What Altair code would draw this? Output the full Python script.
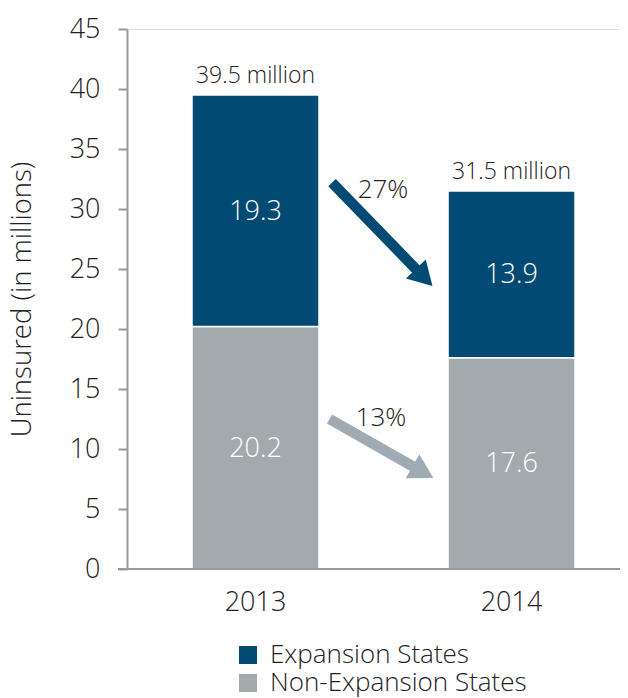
import math
import altair as alt
import pandas as pd

FONT = "Open Sans"
TXT = "#222222"
FW = 300

years = ["2013", "2014"]
series = ["Expansion States", "Non-Expansion States"]
expansion = [19.3, 13.9]
non_expansion = [20.2, 17.6]
totals = [39.5, 31.5]
total_labels = ["39.5 million", "31.5 million"]
colors = ["#004a73", "#a2aaad"]

# arrows (x in category-index units, y in millions)
arrow_labels = ["27%", "13%"]
arrow_x0 = [0.299, 0.289]
arrow_y0 = [32.2, 12.5]
arrow_x1 = [0.690, 0.693]
arrow_y1 = [23.6, 7.6]
arrow_colors = ["#004a73", "#a0aab3"]
pct_x = [0.498, 0.490]
pct_y = [31.6, 12.6]

W, H = 493, 540
YMAX = 45
XDOM = [-0.502, 1.4238]
PX_X = W / (XDOM[1] - XDOM[0])
PX_Y = H / YMAX

rows = []
for i, yr in enumerate(years):
    rows.append(dict(year=yr, series="Non-Expansion States", y0=0, y1=non_expansion[i],
                     val=non_expansion[i], mid=non_expansion[i] / 2))
    rows.append(dict(year=yr, series="Expansion States", y0=non_expansion[i],
                     y1=non_expansion[i] + expansion[i], val=expansion[i],
                     mid=non_expansion[i] + expansion[i] / 2))
bars_df = pd.DataFrame(rows)
tot_df = pd.DataFrame(dict(year=years, total=totals, label=total_labels))


def band_scale():
    return alt.Scale(type="band", domain=years, paddingInner=0.504,
                     paddingOuter=0.2148, align=0.591)


xband = alt.X("year:N", sort=years, scale=band_scale(),
              axis=alt.Axis(title=None, labelAngle=0, domain=False, ticks=False,
                            labelFontSize=27, labelFont=FONT, labelColor=TXT,
                            labelFontWeight=FW, labelPadding=20))
xband_noaxis = alt.X("year:N", sort=years, scale=band_scale(), axis=None)
yscale = alt.Scale(domain=[0, YMAX], nice=False, zero=True)

bars = alt.Chart(bars_df).mark_bar(stroke="white", strokeWidth=1.5).encode(
    x=xband,
    y=alt.Y("y0:Q", scale=yscale,
            axis=alt.Axis(values=list(range(0, 50, 5)), title="Uninsured (in millions)",
                          titleFontSize=27.5, titleFont=FONT, titleFontWeight=FW,
                          titleColor=TXT, titlePadding=33,
                          labelFontSize=27, labelFont=FONT, labelColor=TXT,
                          labelFontWeight=FW,
                          labelPadding=18, tickSize=9, tickColor="#999999",
                          tickWidth=2, domainColor="#999999", domainWidth=2,
                          grid=False)),
    y2="y1:Q",
    color=alt.Color("series:N", scale=alt.Scale(domain=series, range=colors),
                    legend=alt.Legend(orient="none", legendX=108, legendY=613,
                                      title=None, symbolType="square", symbolSize=324,
                                      symbolStrokeWidth=0, symbolOpacity=1,
                                      labelFontSize=26, labelFont=FONT, labelLimit=400,
                                      labelFontWeight=FW,
                                      labelColor=TXT, rowPadding=2, labelOffset=9,
                                      direction="vertical")),
)

vals = alt.Chart(bars_df).mark_text(color="white", fontSize=27, font=FONT,
                                    fontWeight=FW,
                                    baseline="alphabetic", dy=9).encode(
    x=xband_noaxis,
    y=alt.Y("mid:Q"),
    text=alt.Text("val:Q", format=".1f"),
)

tots = alt.Chart(tot_df).mark_text(color=TXT, fontSize=23, font=FONT, fontWeight=FW,
                                   baseline="alphabetic", dy=-12).encode(
    x=xband_noaxis,
    y=alt.Y("total:Q"),
    text="label:N",
)

xq = alt.Scale(domain=XDOM, nice=False, zero=False)
layers = [bars, vals, tots]
for i in range(2):
    dxp = (arrow_x1[i] - arrow_x0[i]) * PX_X
    dyp = -(arrow_y1[i] - arrow_y0[i]) * PX_Y
    L = math.hypot(dxp, dyp)
    ux, uy = dxp / L, dyp / L
    back = 11.5
    hx = arrow_x1[i] - back * ux / PX_X
    hy = arrow_y1[i] + back * uy / PX_Y
    ang = 90 + math.degrees(math.atan2(dyp, dxp))
    shaft = pd.DataFrame(dict(x=[arrow_x0[i], hx], y=[arrow_y0[i], hy], o=[0, 1]))
    head = pd.DataFrame(dict(x=[hx], y=[hy]))
    layers.append(alt.Chart(shaft).mark_line(color=arrow_colors[i], strokeWidth=10.5,
                                             strokeCap="butt").encode(
        x=alt.X("x:Q", scale=xq, axis=None),
        y=alt.Y("y:Q"),
        order="o:Q"))
    layers.append(alt.Chart(head).mark_point(shape="triangle-up", size=760, filled=True,
                                             color=arrow_colors[i], opacity=1,
                                             strokeWidth=0, angle=ang).encode(
        x=alt.X("x:Q", scale=xq, axis=None),
        y=alt.Y("y:Q")))

pct_df = pd.DataFrame(dict(x=pct_x, y=pct_y, label=arrow_labels))
layers.append(alt.Chart(pct_df).mark_text(color=TXT, fontSize=26, font=FONT,
                                          fontWeight=FW, baseline="middle").encode(
    x=alt.X("x:Q", scale=xq, axis=None),
    y=alt.Y("y:Q"),
    text="label:N"))

xaxis_line = alt.Chart(tot_df).mark_rule(color="#999999", strokeWidth=2).encode(
    x=alt.value(-9), x2=alt.value(W), y=alt.value(H))
layers.append(xaxis_line)

chart = alt.layer(*layers).resolve_scale(x="independent").properties(
    width=W, height=H,
    autosize=alt.AutoSizeParams(type="none"),
    padding={"left": 119, "top": 21, "right": 0, "bottom": 130},
).configure_view(stroke=None).configure(font=FONT)

chart.save("out.html", embed_options={"renderer": "svg", "actions": False})
